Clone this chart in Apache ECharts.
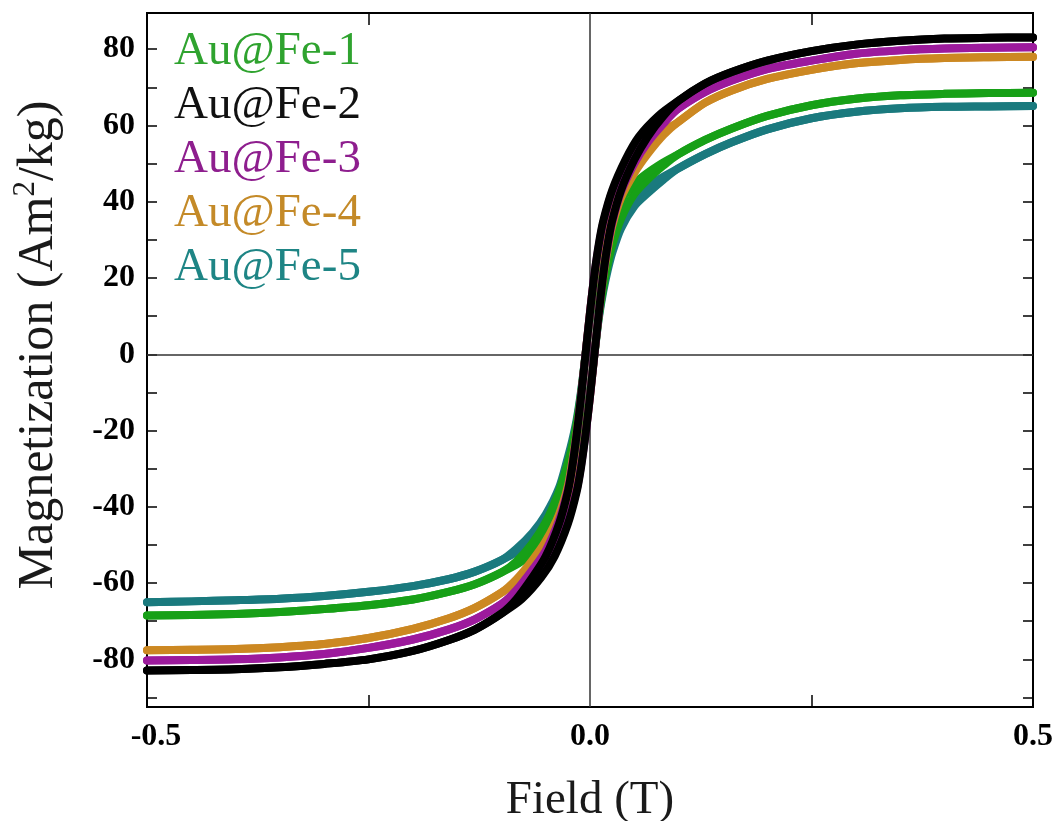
<!DOCTYPE html>
<html>
<head>
<meta charset="utf-8">
<script src="https://cdn.jsdelivr.net/npm/echarts@6/dist/echarts.min.js"></script>
<style>
html,body{margin:0;padding:0;background:#fff;}
#chart{width:1056px;height:821px;}
</style>
</head>
<body>
<div id="chart"></div>
<script>
// Field values (T) of the ascending (up) and descending (down) branches
const fieldUp = [-0.5, -0.45, -0.4, -0.35, -0.3, -0.25, -0.2, -0.16, -0.13, -0.1, -0.077, -0.055, -0.04, -0.025, -0.015, -0.01, -0.005, 0, 0.005, 0.01, 0.015, 0.02, 0.025, 0.035, 0.05, 0.065, 0.083, 0.1, 0.13, 0.16, 0.2, 0.25, 0.3, 0.35, 0.4, 0.45, 0.5];
const fieldDown = [-0.5, -0.45, -0.4, -0.35, -0.3, -0.25, -0.2, -0.16, -0.13, -0.1, -0.083, -0.065, -0.05, -0.035, -0.025, -0.02, -0.015, -0.01, -0.005, 0, 0.005, 0.01, 0.015, 0.025, 0.04, 0.055, 0.077, 0.1, 0.13, 0.16, 0.2, 0.25, 0.3, 0.35, 0.4, 0.45, 0.5];

// Magnetization (Am2/kg), one value per field point (same list for both branches)
const fe1 = [-68.5, -68.4, -68.1, -67.6, -66.8, -65.8, -64.3, -62.3, -60.3, -57.2, -54.3, -49.5, -44.0, -36.0, -28.5, -24.0, -18.0, -10.0, 0, 10.0, 17.5, 23.5, 28.5, 35.5, 42.0, 45.8, 49.5, 52.5, 56.2, 59.2, 62.5, 65.3, 67.0, 67.9, 68.3, 68.5, 68.6];
const fe2 = [-82.9, -82.8, -82.6, -82.1, -81.2, -80.0, -77.8, -75.0, -72.2, -68.0, -64.2, -58.5, -53.0, -44.5, -36.0, -29.5, -21.0, -11.0, 0, 11.0, 21.0, 29.0, 35.0, 43.0, 51.0, 57.0, 62.5, 66.5, 71.0, 74.0, 77.0, 79.5, 81.2, 82.2, 82.8, 83.0, 83.1];
const fe3 = [-80.3, -80.2, -80.0, -79.5, -78.6, -77.0, -74.8, -72.2, -69.5, -65.5, -61.8, -56.5, -51.5, -43.5, -35.5, -29.0, -21.0, -11.0, 0, 11.0, 21.0, 28.5, 34.5, 42.5, 50.0, 55.5, 60.5, 64.5, 68.8, 71.8, 74.8, 77.0, 78.8, 79.7, 80.2, 80.4, 80.5];
const fe4 = [-77.6, -77.5, -77.3, -76.8, -76.0, -74.4, -72.0, -69.3, -66.5, -62.5, -59.0, -54.0, -49.0, -42.0, -34.5, -28.0, -20.5, -11.0, 0, 11.0, 20.5, 27.5, 33.5, 41.0, 47.5, 52.5, 57.5, 61.0, 66.0, 69.2, 72.2, 74.6, 76.3, 77.2, 77.7, 77.9, 78.0];
const fe5 = [-65.0, -64.8, -64.5, -64.1, -63.4, -62.3, -60.8, -59.0, -57.0, -54.0, -51.0, -46.8, -42.0, -35.0, -27.0, -22.5, -17.0, -9.5, 0, 9.5, 16.5, 22.0, 26.5, 33.0, 38.8, 42.2, 45.8, 48.8, 52.5, 55.6, 59.0, 61.9, 63.6, 64.5, 64.9, 65.0, 65.1];

const names = ['Au@Fe-1', 'Au@Fe-2', 'Au@Fe-3', 'Au@Fe-4', 'Au@Fe-5'];
const lineColors = ['#17a017', '#000000', '#9c1a9c', '#cc8822', '#1a7a7e'];
const legendColors = ['#2fa32f', '#111111', '#8e1e8e', '#c48a28', '#1e8585'];
const xLabels = [-0.5, 0, 0.5];
const xTicks = [-0.25, 0.25];
const yLabels = [-80, -60, -40, -20, 0, 20, 40, 60, 80];
const yTicks = [-90, -80, -70, -60, -50, -40, -30, -20, -10, 0, 10, 20, 30, 40, 50, 60, 70, 80];

const values = [fe1, fe2, fe3, fe4, fe5];
const drawOrder = [4, 0, 3, 2, 1]; // black drawn last (on top)

const serif = 'Liberation Serif, Times New Roman, serif';
const series = [{
  name: 'zero', type: 'line', data: [], silent: true, z: 1,
  markLine: {
    silent: true, symbol: ['none', 'none'], label: {show: false},
    lineStyle: {color: '#333', width: 1.5, type: 'solid'},
    emphasis: {disabled: true},
    data: [{xAxis: 0}, {yAxis: 0}]
  }
}];
drawOrder.forEach(function (k, pos) {
  [fieldUp, fieldDown].forEach(function (fld) {
    series.push({
      name: names[k], type: 'line', showSymbol: false, symbol: 'none',
      smooth: 0.3, z: 2 + pos,
      lineStyle: {color: lineColors[k], width: 8, cap: 'round', join: 'round'},
      itemStyle: {color: lineColors[k]},
      emphasis: {disabled: true},
      data: fld.map(function (x, i) { return [x, values[k][i]]; })
    });
  });
});

const tickStyle = {color: '#000', width: 1.5};
const labelFont = {fontFamily: serif, fontWeight: 'bold', fontSize: 32, color: '#000'};
const chart = echarts.init(document.getElementById('chart'), null, {renderer: 'canvas'});
chart.setOption({
  animation: false,
  backgroundColor: '#fff',
  grid: {left: 147, right: 23, top: 13, bottom: 114, show: true, borderColor: '#000', borderWidth: 2,
         containLabel: false, outerBoundsMode: 'none'},
  legend: {
    orient: 'vertical', left: 164, top: 20, icon: 'none', itemWidth: 0, itemHeight: 10, itemGap: 0,
    selectedMode: false,
    textStyle: {fontFamily: serif, fontSize: 47, lineHeight: 54, padding: 0},
    data: names.map(function (n, i) { return {name: n, textStyle: {color: legendColors[i]}}; })
  },
  xAxis: [{
    type: 'value', min: -0.5, max: 0.5, interval: 0.5, position: 'bottom',
    axisLine: {show: false, onZero: false}, splitLine: {show: false},
    axisTick: {show: true, inside: true, length: 12, customValues: xTicks, lineStyle: tickStyle},
    axisLabel: Object.assign({customValues: xLabels, margin: 14,
                formatter: function (v) {
                  const s = Number(v).toFixed(1);
                  return v < 0 ? '{p|' + s + '}' : s;
                },
                rich: {p: Object.assign({padding: [0, 0, 0, 18]}, labelFont)}}, labelFont),
    name: 'Field (T)', nameLocation: 'middle', nameGap: 70,
    nameTextStyle: {fontFamily: serif, fontSize: 47, color: '#1a1a1a'}
  }, {
    type: 'value', min: -0.5, max: 0.5, interval: 0.5, position: 'top',
    axisLine: {show: false, onZero: false}, splitLine: {show: false}, axisLabel: {show: false},
    axisTick: {show: true, inside: true, length: 12, customValues: xTicks, lineStyle: tickStyle}
  }],
  yAxis: [{
    type: 'value', min: -92.5, max: 89.5, position: 'left',
    axisLine: {show: false, onZero: false}, splitLine: {show: false},
    axisTick: {show: true, inside: true, length: 10, customValues: yTicks, lineStyle: tickStyle},
    axisLabel: Object.assign({customValues: yLabels, margin: 12}, labelFont),
    name: '{a|Magnetization (Am}{s|2}{a|/kg)}', nameLocation: 'middle', nameGap: 80,
    nameTextStyle: {
      padding: [0, 0, 0, 30],
      rich: {
        a: {fontFamily: serif, fontSize: 50, color: '#1a1a1a', lineHeight: 56},
        s: {fontFamily: serif, fontSize: 31, color: '#1a1a1a', lineHeight: 56, padding: [0, 0, 26, 0]}
      }
    }
  }, {
    type: 'value', min: -92.5, max: 89.5, position: 'right',
    axisLine: {show: false, onZero: false}, splitLine: {show: false}, axisLabel: {show: false},
    axisTick: {show: true, inside: true, length: 10, customValues: yTicks, lineStyle: tickStyle}
  }],
  series: series
});
</script>
</body>
</html>
